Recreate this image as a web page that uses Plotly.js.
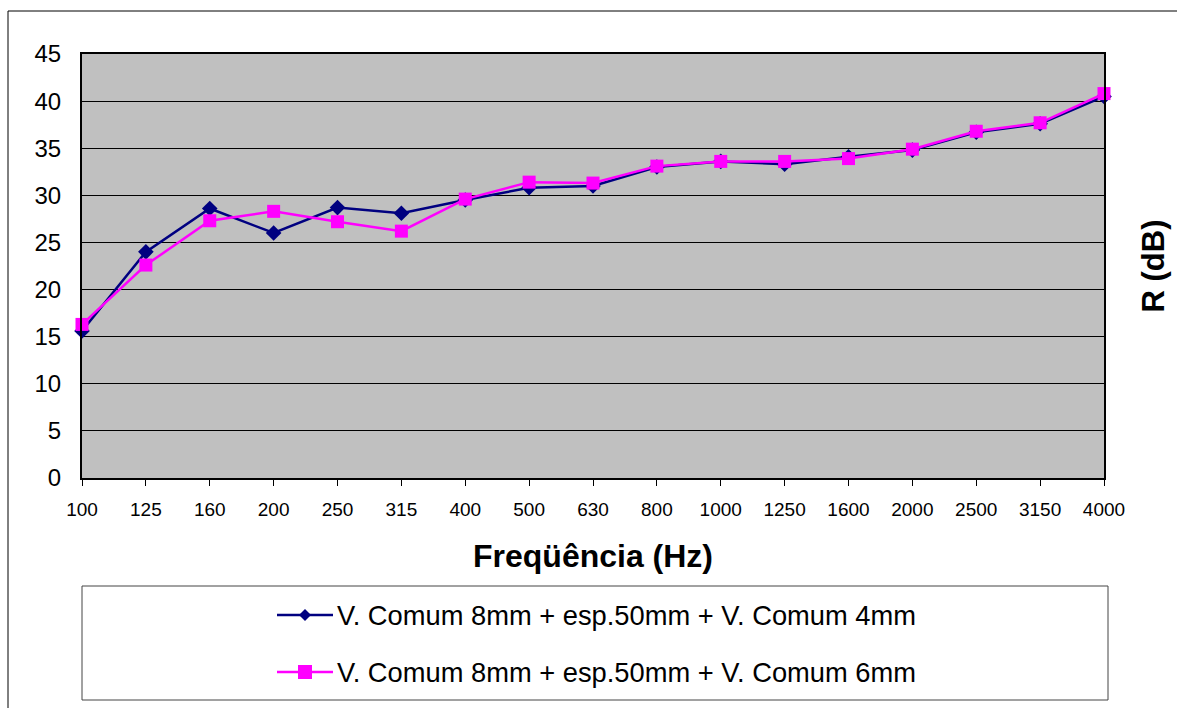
<!DOCTYPE html>
<html>
<head>
<meta charset="utf-8">
<script src="https://cdn.plot.ly/plotly-3.0.1.min.js"></script>
<style>
html,body{margin:0;padding:0;background:#fff;}
#chart{width:1177px;height:708px;}
</style>
</head>
<body>
<div id="chart"></div>
<script>
const frequencies = ['100','125','160','200','250','315','400','500','630','800','1000','1250','1600','2000','2500','3150','4000'];
const seriesNames = ['V. Comum 8mm + esp.50mm + V. Comum 4mm', 'V. Comum 8mm + esp.50mm + V. Comum 6mm'];
const glass4mm = [15.6, 24.0, 28.6, 26.0, 28.7, 28.1, 29.5, 30.8, 31.0, 33.0, 33.6, 33.3, 34.1, 34.8, 36.7, 37.6, 40.5];
const glass6mm = [16.3, 22.6, 27.3, 28.3, 27.2, 26.2, 29.6, 31.4, 31.3, 33.1, 33.6, 33.6, 33.9, 34.9, 36.8, 37.7, 40.8];
const yTicks = [0, 5, 10, 15, 20, 25, 30, 35, 40, 45];

const FONT = '"Liberation Sans", Arial, sans-serif';
const NAVY = '#000080';
const MAGENTA = '#FF00FF';

const W = 1177, H = 708;
const L = 82, R = 73, T = 54, B = 230;
const plotW = W - L - R, plotH = H - T - B;
const px = x => (x - L) / plotW;
const py = y => (H - B - y) / plotH;

const traces = [
  {x: frequencies, y: glass4mm, name: seriesNames[0], type: 'scatter', mode: 'lines+markers',
   line: {color: NAVY, width: 2.5}, marker: {symbol: 'diamond', size: 12, color: NAVY},
   showlegend: false, cliponaxis: false},
  {x: frequencies, y: glass6mm, name: seriesNames[1], type: 'scatter', mode: 'lines+markers',
   line: {color: MAGENTA, width: 2.5}, marker: {symbol: 'square', size: 13, color: MAGENTA},
   showlegend: false, cliponaxis: false},
  {x: frequencies, y: glass4mm, yaxis: 'y2', type: 'scatter', mode: 'none', showlegend: false, hoverinfo: 'skip'}
];

// custom legend (box, line samples, markers, labels)
const legendRows = [615, 672];
const shapes = [
  {type: 'rect', xref: 'paper', yref: 'paper', x0: px(8), x1: px(1190), y0: py(11), y1: py(720),
   line: {color: '#000', width: 1}, fillcolor: 'rgba(0,0,0,0)', layer: 'below'},
  {type: 'rect', xref: 'paper', yref: 'paper', x0: px(82), x1: px(1108), y0: py(586), y1: py(700),
   line: {color: '#444', width: 1}, fillcolor: 'rgba(0,0,0,0)'}
];
const annotations = [];
const colors = [NAVY, MAGENTA];
legendRows.forEach((ry, i) => {
  shapes.push({type: 'line', xref: 'paper', yref: 'paper', x0: px(277), x1: px(333), y0: py(ry), y1: py(ry),
    line: {color: colors[i], width: 2.5}});
  const cx = px(305), cy = py(ry);
  const path = i === 0 ? 'M-6,0 L0,6 L6,0 L0,-6 Z' : 'M-7,-7 L7,-7 L7,7 L-7,7 Z';
  shapes.push({type: 'path', xref: 'paper', yref: 'paper', xsizemode: 'pixel', ysizemode: 'pixel',
    xanchor: cx, yanchor: cy, path: path, fillcolor: colors[i], line: {color: colors[i], width: 0}});
  annotations.push({xref: 'paper', yref: 'paper', x: px(335), y: py(ry), xanchor: 'left', yanchor: 'middle',
    text: seriesNames[i], showarrow: false, font: {family: FONT, size: 27.3, color: '#000'}});
});

const layout = {
  width: W, height: H,
  margin: {l: L, r: R, t: T, b: B},
  paper_bgcolor: '#fff',
  plot_bgcolor: '#C0C0C0',
  font: {family: FONT, color: '#000'},
  showlegend: false,
  xaxis: {
    type: 'category', range: [0, 16], categoryorder: 'array', categoryarray: frequencies,
    showline: true, linecolor: '#000', linewidth: 2, mirror: true,
    ticks: 'outside', ticklen: 6, tickcolor: '#000', tickwidth: 1, ticklabelstandoff: 7,
    showgrid: false, zeroline: false,
    tickfont: {family: FONT, size: 19, color: '#000'},
    title: {text: '<b>Freqüência (Hz)</b>', font: {family: FONT, size: 32, color: '#000'}, standoff: 26}
  },
  yaxis: {
    range: [0, 45], tickvals: yTicks, ticktext: yTicks.map(String),
    showline: true, linecolor: '#000', linewidth: 2, mirror: true,
    ticks: '', ticklabelstandoff: 14,
    showgrid: true, gridcolor: '#000', gridwidth: 1, zeroline: false,
    tickfont: {family: FONT, size: 24, color: '#000'}
  },
  yaxis2: {
    overlaying: 'y', side: 'right', range: [0, 45], showticklabels: false, ticks: '',
    showgrid: false, zeroline: false, showline: false,
    title: {text: '<b>R (dB)</b>', font: {family: FONT, size: 31, color: '#000'}, standoff: 38}
  },
  shapes: shapes,
  annotations: annotations
};

Plotly.newPlot('chart', traces, layout, {displayModeBar: false, staticPlot: true});
</script>
</body>
</html>
